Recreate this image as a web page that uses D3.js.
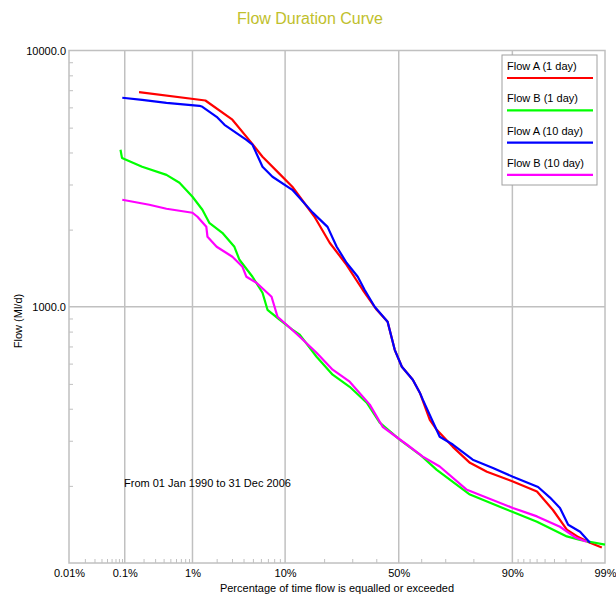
<!DOCTYPE html>
<html>

<head>
	<title>Flow Duration Curve</title>
	<script src="https://cdn.jsdelivr.net/npm/d3@7"></script>
	<style>
		body { margin: 0; background: #fff; }
		svg { font-family: "Liberation Sans", Arial, sans-serif; }
		.grid line, .frame { stroke: #c0c0c0; stroke-width: 1.5px; fill: none; }
		.axis path { display: none; }
		.axis line { stroke: #c0c0c0; }
		.axis text { font-size: 11px; fill: #000; }
		.series { fill: none; stroke-width: 2.2px; stroke-linejoin: round; }
	</style>
</head>

<body>
	<svg id="chart" width="616" height="595"></svg>

	<script>
		// [percentage of time exceeded, flow Ml/d]
		var flowA1 = [[0.17, 6880], [1.46, 6380], [3.03, 5370], [4.84, 4360], [6.22, 3850], [8.94, 3300],
			[11.5, 2940], [17.1, 2245], [21.8, 1777], [27.8, 1458], [34.2, 1165], [40.2, 973], [45, 874],
			[48.2, 679], [51.4, 583], [56.3, 519], [59.4, 462], [63.7, 362], [66.6, 331], [72.9, 284],
			[78.9, 246], [84, 227], [90.1, 208], [94.05, 190], [95.9, 161], [97.1, 135], [97.8, 127],
			[98.45, 120], [98.9, 115]];
		var flowB1 = [[0.085, 4100], [0.09, 3810], [0.19, 3520], [0.44, 3270], [0.67, 3046], [1.0, 2686],
			[1.34, 2390], [1.63, 2127], [2.33, 1943], [3.19, 1714], [3.62, 1525], [4.95, 1309], [6.22, 1134],
			[6.94, 973], [8.94, 890], [11.5, 814], [13.2, 778], [17.7, 638], [22.8, 543], [29, 487],
			[35.9, 422], [41.5, 353], [50.4, 303], [59.4, 265], [66.6, 231], [78.9, 185], [90.1, 158],
			[94.05, 145], [97.1, 127], [97.96, 123], [99.0, 118]];
		var flowA10 = [[0.091, 6540], [0.19, 6420], [0.44, 6250], [1.23, 6085], [1.34, 6030], [2.0, 5510],
			[2.47, 5130], [4.29, 4480], [4.95, 4290], [6.22, 3520], [7.72, 3215], [11.5, 2860], [16.6, 2330],
			[21.1, 2050], [24.2, 1714], [27.8, 1485], [32.2, 1309], [35, 1165], [39.3, 1000], [45, 874],
			[48.2, 679], [51.4, 583], [56.3, 519], [59.4, 462], [60.7, 434], [67.8, 311], [72.9, 290],
			[79.8, 253], [85.6, 235], [90.1, 217], [94.2, 198], [95.6, 180], [96.55, 164], [97.2, 141],
			[97.96, 132.5], [98.45, 120]];
		var flowB10 = [[0.091, 2615], [0.245, 2500], [0.44, 2412], [1.0, 2327], [1.16, 2245], [1.5, 2051],
			[1.55, 1875], [2.0, 1714], [3.03, 1567], [3.9, 1432], [4.29, 1309], [5.43, 1240], [7.57, 1094],
			[8.58, 914], [10.3, 851], [13.2, 764], [17.7, 661], [22.8, 568], [29, 510], [37.2, 415],
			[42.8, 340], [53.6, 290], [60.7, 260], [67.8, 238], [77.9, 193], [90.1, 164], [94.05, 152],
			[96.55, 138.5], [97.7, 125.6], [98.3, 121]];

		var seriesNames = ['Flow A (1 day)', 'Flow B (1 day)', 'Flow A (10 day)', 'Flow B (10 day)'];
		var seriesColors = ['#ff0000', '#00ff00', '#0000ff', '#ff00ff'];
		var seriesData = [flowA1, flowB1, flowA10, flowB10];

		var xMajor = [0.01, 0.1, 1, 10, 50, 90, 99];
		var xLabels = ['0.01%', '0.1%', '1%', '10%', '50%', '90%', '99%'];
		var xMinor = [0.02, 0.03, 0.04, 0.05, 0.06, 0.07, 0.08, 0.09, 0.2, 0.3, 0.4, 0.5, 0.6, 0.7, 0.8, 0.9,
			2, 3, 4, 5, 6, 7, 8, 9, 20, 30, 40, 60, 70, 80, 91, 92, 93, 94, 95, 96, 97, 98];
		var yMajor = [1000, 10000];
		var yLabels = ['1000.0', '10000.0'];
		var yMinor = [200, 300, 400, 500, 600, 700, 800, 900, 2000, 3000, 4000, 5000, 6000, 7000, 8000, 9000];

		// inverse normal cdf (Acklam)
		function probit(p) {
			var a = [-39.69683028665376, 220.9460984245205, -275.9285104469687, 138.3577518672690, -30.66479806614716, 2.506628277459239],
				b = [-54.47609879822406, 161.5858368580409, -155.6989798598866, 66.80131188771972, -13.28068155288572],
				c = [-0.007784894002430293, -0.3223964580411365, -2.400758277161838, -2.549732539343734, 4.374664141464968, 2.938163982698783],
				d = [0.007784695709041462, 0.3224671290700398, 2.445134137142996, 3.754408661907416];
			var q, r;
			if (p < 0.02425) {
				q = Math.sqrt(-2 * Math.log(p));
				return (((((c[0] * q + c[1]) * q + c[2]) * q + c[3]) * q + c[4]) * q + c[5]) /
					((((d[0] * q + d[1]) * q + d[2]) * q + d[3]) * q + 1);
			} else if (p > 1 - 0.02425) {
				q = Math.sqrt(-2 * Math.log(1 - p));
				return -(((((c[0] * q + c[1]) * q + c[2]) * q + c[3]) * q + c[4]) * q + c[5]) /
					((((d[0] * q + d[1]) * q + d[2]) * q + d[3]) * q + 1);
			}
			q = p - 0.5;
			r = q * q;
			return (((((a[0] * r + a[1]) * r + a[2]) * r + a[3]) * r + a[4]) * r + a[5]) * q /
				(((((b[0] * r + b[1]) * r + b[2]) * r + b[3]) * r + b[4]) * r + 1);
		}

		var svg = d3.select('#chart');
		var plotLeft = 69, plotRight = 605, plotTop = 50.5, plotBottom = 563;

		var z = d3.scaleLinear()
			.domain([probit(0.0001), probit(0.99)])
			.range([plotLeft, plotRight]);
		var x = function (pct) { return z(probit(pct / 100)); };

		var y = d3.scaleLog()
			.domain([100, 10000])
			.range([plotBottom, plotTop]);

		// title
		svg.append('text')
			.attr('x', 310)
			.attr('y', 24)
			.attr('text-anchor', 'middle')
			.style('font-size', '16px')
			.style('fill', '#c0c02c')
			.text('Flow Duration Curve');

		// grid
		var grid = svg.append('g').attr('class', 'grid');
		grid.selectAll('.vx')
			.data(xMajor.slice(1, 6))
			.enter()
			.append('line')
			.attr('x1', d => x(d)).attr('x2', d => x(d))
			.attr('y1', plotTop).attr('y2', plotBottom);
		grid.append('line')
			.attr('x1', plotLeft).attr('x2', plotRight)
			.attr('y1', y(1000)).attr('y2', y(1000));

		svg.append('rect')
			.attr('class', 'frame')
			.attr('x', plotLeft).attr('y', plotTop)
			.attr('width', plotRight - plotLeft).attr('height', plotBottom - plotTop);

		// axes
		svg.append('g')
			.attr('class', 'axis')
			.attr('transform', 'translate(0,' + plotBottom + ')')
			.call(d3.axisBottom(z)
				.tickValues(xMajor.map(p => probit(p / 100)))
				.tickFormat((d, i) => xLabels[i])
				.tickSize(0)
				.tickPadding(6));

		svg.append('g')
			.attr('class', 'axis')
			.attr('transform', 'translate(0,' + plotBottom + ')')
			.call(d3.axisTop(z)
				.tickValues(xMinor.map(p => probit(p / 100)))
				.tickFormat('')
				.tickSize(4));

		svg.append('g')
			.attr('class', 'axis')
			.attr('transform', 'translate(' + plotLeft + ',0)')
			.call(d3.axisLeft(y)
				.tickValues(yMajor)
				.tickFormat((d, i) => yLabels[i])
				.tickSize(0)
				.tickPadding(3));

		svg.append('g')
			.attr('class', 'axis')
			.attr('transform', 'translate(' + plotLeft + ',0)')
			.call(d3.axisRight(y)
				.tickValues(yMinor)
				.tickFormat('')
				.tickSize(4));

		// axis titles
		svg.append('text')
			.attr('x', 337)
			.attr('y', 592)
			.attr('text-anchor', 'middle')
			.style('font-size', '11px')
			.text('Percentage of time flow is equalled or exceeded');

		svg.append('text')
			.attr('transform', 'translate(22,321) rotate(-90)')
			.attr('text-anchor', 'middle')
			.style('font-size', '11px')
			.text('Flow (Ml/d)');

		svg.append('text')
			.attr('x', 124)
			.attr('y', 487)
			.style('font-size', '11px')
			.text('From 01 Jan 1990 to 31 Dec 2006');

		// series
		var line = d3.line()
			.x(d => x(d[0]))
			.y(d => y(d[1]));

		svg.append('g')
			.selectAll('path')
			.data(seriesData)
			.enter()
			.append('path')
			.attr('class', 'series')
			.attr('stroke', (d, i) => seriesColors[i])
			.attr('d', line);

		// legend
		var legend = svg.append('g').attr('transform', 'translate(502,55)');
		legend.append('rect')
			.attr('width', 95).attr('height', 130)
			.attr('fill', '#fff')
			.attr('stroke', '#a0a0a0');
		var item = legend.selectAll('.item')
			.data(seriesNames)
			.enter()
			.append('g')
			.attr('transform', (d, i) => 'translate(0,' + (i * 32.3) + ')');
		item.append('text')
			.attr('x', 5).attr('y', 15)
			.style('font-size', '11px')
			.text(d => d);
		item.append('line')
			.attr('x1', 5).attr('x2', 91)
			.attr('y1', 23).attr('y2', 23)
			.attr('stroke', (d, i) => seriesColors[i])
			.attr('stroke-width', 2.2);
	</script>
</body>

</html>
